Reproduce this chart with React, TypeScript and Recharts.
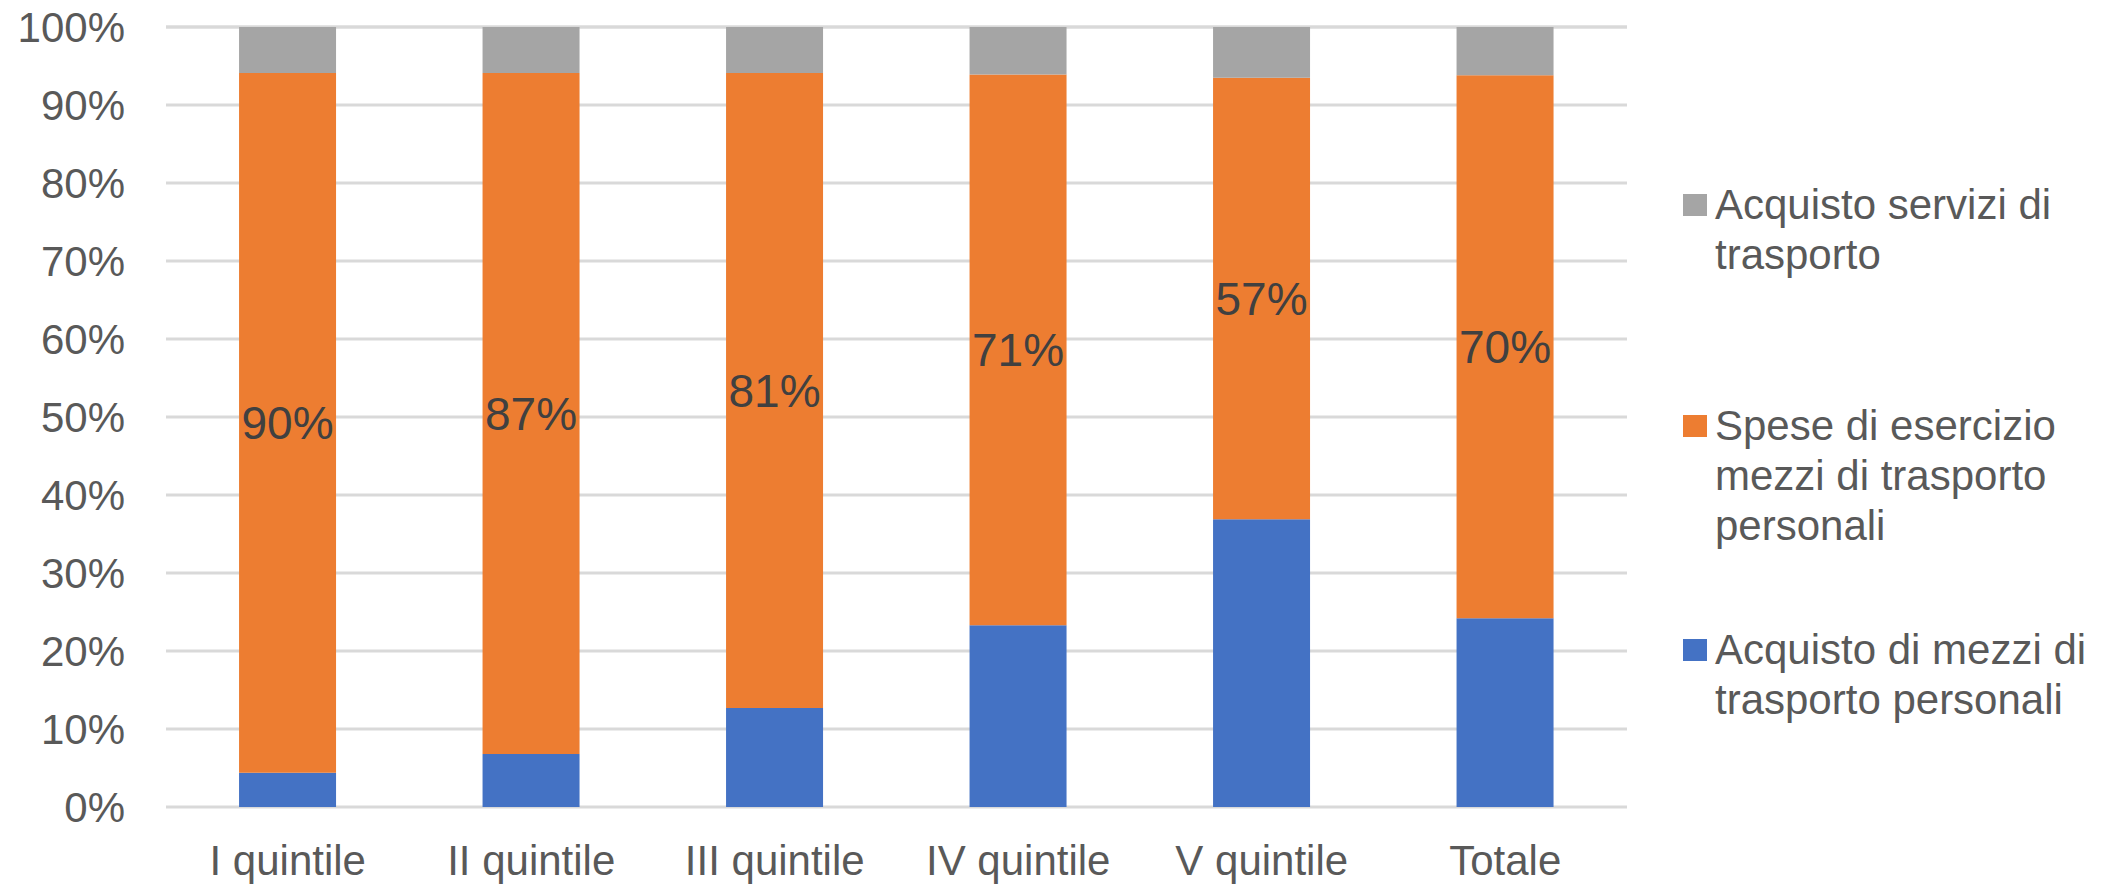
import { BarChart, Bar, XAxis, YAxis, CartesianGrid, Legend, LabelList } from 'recharts';

// categorie sull'asse X
const CATEGORIES = ['I quintile', 'II quintile', 'III quintile', 'IV quintile', 'V quintile', 'Totale'];

// quote percentuali per quintile
const ACQUISTO_MEZZI = [4.4, 6.8, 12.7, 23.3, 36.9, 24.2];
const SPESE_ESERCIZIO = [89.7, 87.3, 81.4, 70.6, 56.6, 69.6];
const ACQUISTO_SERVIZI = [5.9, 5.9, 5.9, 6.1, 6.5, 6.2];

const Y_TICKS = [0, 10, 20, 30, 40, 50, 60, 70, 80, 90, 100];

const FONT = '"Liberation Sans", Arial, sans-serif';
const TEXT_COLOR = '#595959';

const COLORS = {
  mezzi: '#4472C4',
  spese: '#ED7D31',
  servizi: '#A5A5A5',
};

// voci della legenda, nell'ordine in cui appaiono (dall'alto)
const LEGEND_ITEMS = [
  { key: 'servizi', lines: ['Acquisto servizi di', 'trasporto'] },
  { key: 'spese', lines: ['Spese di esercizio', 'mezzi di trasporto', 'personali'] },
  { key: 'mezzi', lines: ['Acquisto di mezzi di', 'trasporto personali'] },
];
const LEGEND_TOPS = [180, 401, 625];

const W = 2120;
const H = 886;

const data = CATEGORIES.map((name, i) => ({
  name,
  mezzi: ACQUISTO_MEZZI[i],
  spese: SPESE_ESERCIZIO[i],
  servizi: ACQUISTO_SERVIZI[i],
}));

function renderLegend() {
  return (
    <div
      style={{
        position: 'relative',
        width: 430,
        height: H,
        fontFamily: FONT,
        fontSize: 42,
        lineHeight: '50px',
        color: TEXT_COLOR,
      }}
    >
      {LEGEND_ITEMS.map((item, i) => (
        <div key={item.key} style={{ position: 'absolute', left: 0, top: LEGEND_TOPS[i] }}>
          <span
            style={{
              position: 'absolute',
              left: 0,
              top: 14,
              width: 24,
              height: 22,
              background: COLORS[item.key as keyof typeof COLORS],
            }}
          />
          <div style={{ marginLeft: 32, whiteSpace: 'nowrap' }}>
            {item.lines.map((l) => (
              <div key={l}>{l}</div>
            ))}
          </div>
        </div>
      ))}
    </div>
  );
}

export default function App() {
  // il grafico occupa tutta la finestra, senza il margine del body
  return (
    <div style={{ position: 'fixed', left: 0, top: 0, width: W, height: H, fontFamily: FONT, background: '#fff' }}>
      <BarChart
        width={W}
        height={H}
        data={data}
        margin={{ top: 27, right: 493, bottom: 0, left: 0 }}
        barCategoryGap="30%"
      >
        <CartesianGrid horizontal vertical={false} stroke="#d9d9d9" strokeWidth={3} />
        <XAxis
          dataKey="name"
          height={79}
          axisLine={false}
          tickLine={false}
          tickSize={0}
          tickMargin={38}
          tick={{ fontSize: 42, fill: TEXT_COLOR, fontFamily: FONT }}
        />
        <YAxis
          width={166}
          domain={[0, 100]}
          ticks={Y_TICKS}
          interval={0}
          axisLine={false}
          tickLine={false}
          tickSize={0}
          tickMargin={41}
          tickFormatter={(v) => `${v}%`}
          tick={{ fontSize: 42, fill: TEXT_COLOR, fontFamily: FONT }}
        />
        <Legend
          layout="horizontal"
          align="center"
          verticalAlign="middle"
          content={renderLegend}
          wrapperStyle={{ left: 1683, top: 0, width: 430, height: H }}
        />
        <Bar dataKey="mezzi" name="Acquisto di mezzi di trasporto personali" stackId="a" fill={COLORS.mezzi} isAnimationActive={false} />
        <Bar dataKey="spese" name="Spese di esercizio mezzi di trasporto personali" stackId="a" fill={COLORS.spese} isAnimationActive={false}>
          <LabelList
            dataKey="spese"
            position="center"
            formatter={(v: number) => `${Math.round(v)}%`}
            style={{ fontSize: 46, fill: '#404040', fontFamily: FONT }}
          />
        </Bar>
        <Bar dataKey="servizi" name="Acquisto servizi di trasporto" stackId="a" fill={COLORS.servizi} isAnimationActive={false} />
      </BarChart>
    </div>
  );
}
